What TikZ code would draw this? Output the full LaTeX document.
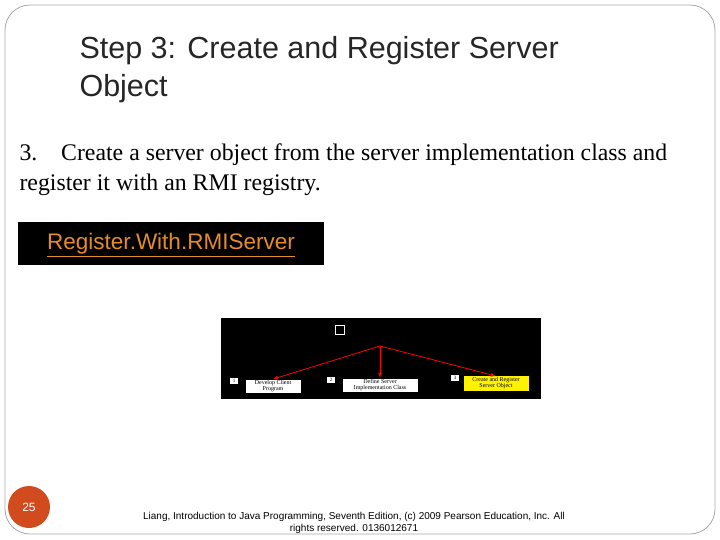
\documentclass[tikz,border=0pt]{standalone}
\usepackage{fontspec}
\setmainfont{Liberation Serif}
\newfontfamily\sans{Liberation Sans}
\begin{document}
\begin{tikzpicture}[x=1pt,y=-1pt,
  lbl/.style={draw=black,fill=white,font=\fontsize{6}{6}\selectfont,align=center,inner sep=1pt},
  num/.style={fill=white,font=\fontsize{5}{5}\selectfont,inner sep=1pt,minimum width=8pt},
  arr/.style={red,thick,-latex}]
\useasboundingbox (0,0) rectangle (720,540);
\draw[gray!70,line width=0.8pt,rounded corners=25] (5,5) rectangle (715,534);
\node[anchor=west,align=left,font=\sans\fontsize{30.5}{38}\selectfont,text=black!85] (title) at (76,70) {Step 3: Create and Register Server\\Object};
\node[anchor=west,align=left,font=\fontsize{23.8}{30}\selectfont] (body) at (16,170) {3.\quad Create a server object from the server implementation class and\\register it with an RMI registry.};
\node[fill=black,minimum width=306,minimum height=43,anchor=north west,inner sep=0] (btn) at (18,222) {};
\node[font=\sans\fontsize{22.5}{22}\selectfont,text={rgb,255:red,230;green,140;blue,40}] (link) at (171,245) {\underline{Register.With.RMIServer}};
\node[fill=black,minimum width=320,minimum height=81,anchor=north west,inner sep=0] (img) at (221,318) {};
\node[draw=white,minimum size=9,inner sep=0] (sq) at (340,330) {};
\coordinate (hub) at (380,346);
\node[lbl,minimum width=56] (c1) at (273,386) {Develop Client\\Program};
\node[num] (n1) at (234,381) {1};
\node[lbl,minimum width=76] (c2) at (380,385) {Define Server\\Implementation Class};
\node[num] (n2) at (331,380) {2};
\node[lbl,fill=yellow,draw=yellow,minimum width=64] (c3) at (496,383) {Create and Register\\Server Object};
\node[num] (n3) at (455,378) {3};
\draw[arr] (hub) -- (c1.north);
\draw[arr] (hub) -- (c2.north);
\draw[arr] (hub) -- (c3.north);
\node[circle,fill={rgb,255:red,210;green,75;blue,30},minimum size=42,inner sep=0,text=white,font=\sans\fontsize{12}{12}\selectfont] (pg) at (29,507) {25};
\node[align=center,font=\sans\fontsize{10}{12}\selectfont] (foot) at (354,523) {Liang, Introduction to Java Programming, Seventh Edition, (c) 2009 Pearson Education, Inc. All\\rights reserved. 0136012671};
\end{tikzpicture}
\end{document}
